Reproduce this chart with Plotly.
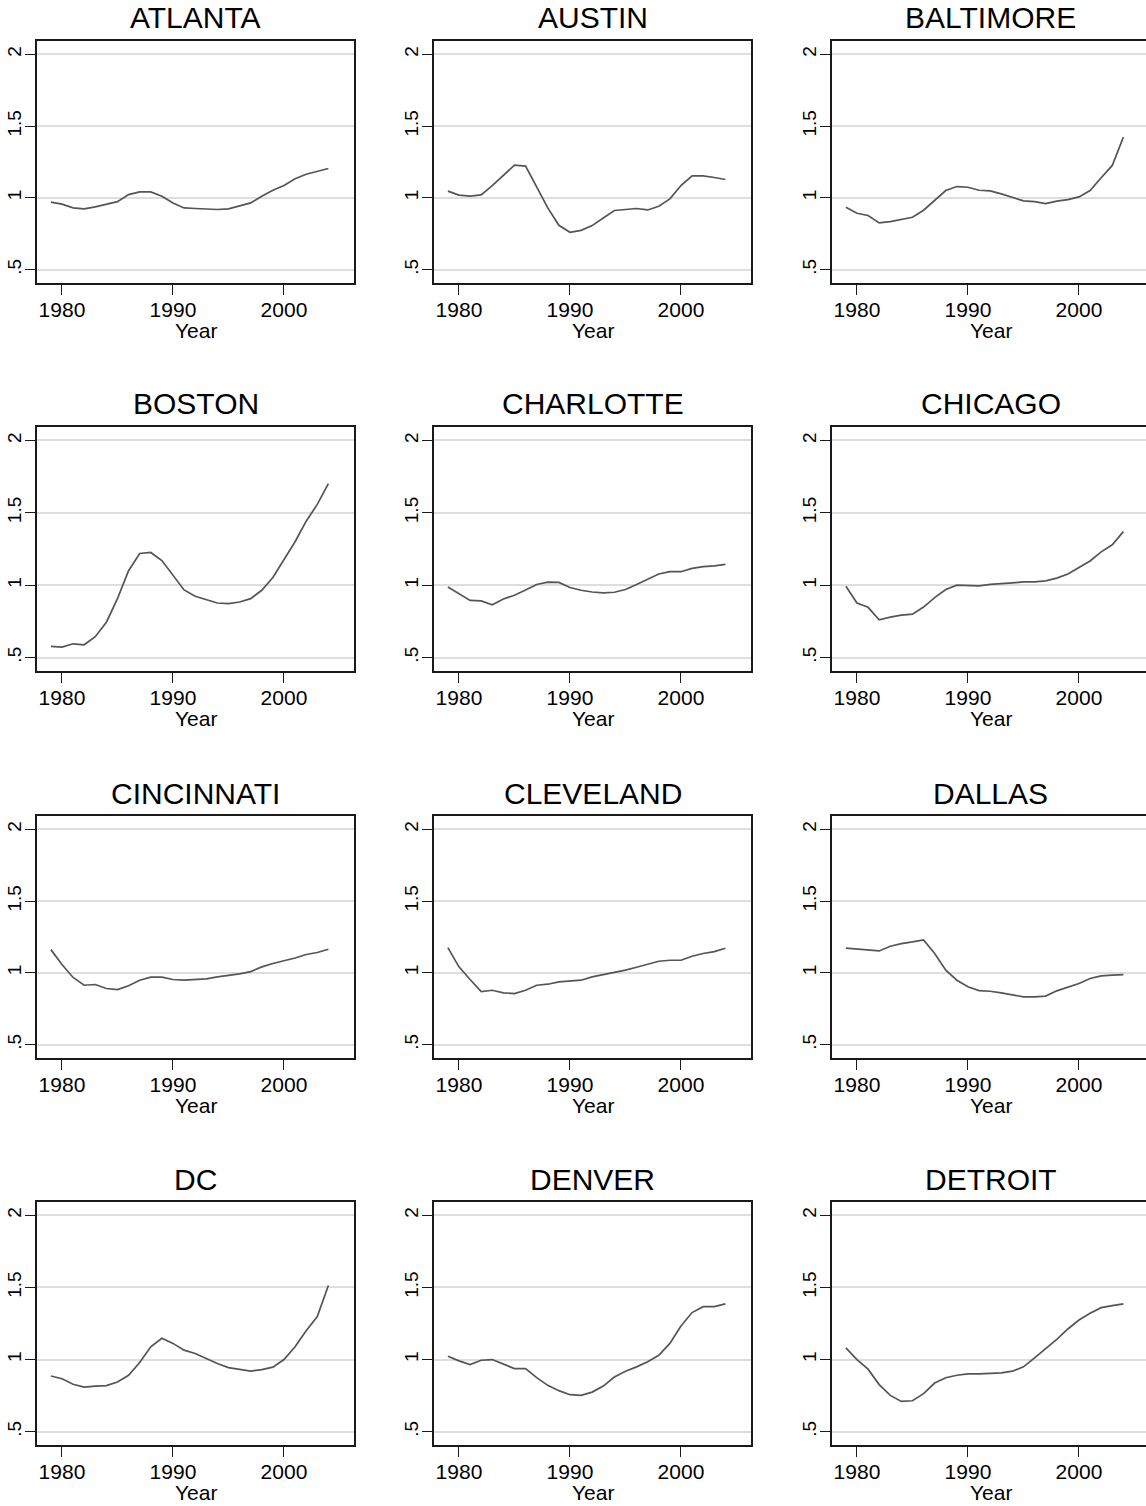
import plotly.graph_objects as go

YEARS = [1979, 1980, 1981, 1982, 1983, 1984, 1985, 1986, 1987, 1988, 1989, 1990, 1991,
         1992, 1993, 1994, 1995, 1996, 1997, 1998, 1999, 2000, 2001, 2002, 2003, 2004]

ATLANTA = [0.97, 0.956, 0.93, 0.923, 0.937, 0.956, 0.974, 1.023, 1.042, 1.042, 1.012, 0.965, 0.93,
           0.926, 0.921, 0.919, 0.923, 0.942, 0.965, 1.012, 1.053, 1.086, 1.133, 1.165, 1.184, 1.205]
AUSTIN = [1.047, 1.019, 1.012, 1.021, 1.086, 1.158, 1.228, 1.221, 1.081, 0.93, 0.809, 0.76, 0.774,
          0.807, 0.86, 0.912, 0.919, 0.926, 0.916, 0.942, 0.993, 1.086, 1.153, 1.153, 1.142, 1.128]
BALTIMORE = [0.935, 0.893, 0.877, 0.826, 0.835, 0.849, 0.865, 0.914, 0.986, 1.051, 1.079, 1.074, 1.053,
             1.049, 1.028, 1.002, 0.979, 0.974, 0.96, 0.977, 0.988, 1.007, 1.051, 1.14, 1.226, 1.423]
BOSTON = [0.577, 0.572, 0.595, 0.588, 0.644, 0.744, 0.907, 1.1, 1.219, 1.226, 1.17, 1.072, 0.967,
          0.923, 0.9, 0.877, 0.872, 0.884, 0.907, 0.965, 1.053, 1.174, 1.3, 1.442, 1.558, 1.702]
CHARLOTTE = [0.988, 0.942, 0.895, 0.891, 0.865, 0.905, 0.93, 0.967, 1.005, 1.021, 1.019, 0.984, 0.965,
             0.953, 0.947, 0.951, 0.97, 1.005, 1.042, 1.077, 1.093, 1.093, 1.116, 1.128, 1.133, 1.144]
CHICAGO = [0.993, 0.877, 0.847, 0.76, 0.779, 0.793, 0.8, 0.849, 0.914, 0.97, 1.0, 1.0, 0.995,
           1.005, 1.009, 1.016, 1.023, 1.023, 1.03, 1.049, 1.077, 1.121, 1.167, 1.23, 1.279, 1.37]
CINCINNATI = [1.162, 1.058, 0.968, 0.914, 0.919, 0.891, 0.884, 0.91, 0.949, 0.97, 0.97, 0.954, 0.949,
              0.954, 0.958, 0.972, 0.981, 0.993, 1.009, 1.042, 1.065, 1.084, 1.104, 1.128, 1.142, 1.165]
CLEVELAND = [1.176, 1.042, 0.954, 0.87, 0.879, 0.861, 0.856, 0.879, 0.914, 0.921, 0.937, 0.944, 0.949,
             0.972, 0.986, 1.0, 1.019, 1.039, 1.058, 1.081, 1.088, 1.088, 1.116, 1.135, 1.148, 1.172]
DALLAS = [1.172, 1.167, 1.158, 1.153, 1.186, 1.204, 1.216, 1.23, 1.135, 1.019, 0.949, 0.903, 0.877,
          0.872, 0.861, 0.845, 0.833, 0.833, 0.838, 0.875, 0.903, 0.926, 0.961, 0.979, 0.984, 0.988]
DC = [0.886, 0.867, 0.828, 0.809, 0.816, 0.819, 0.844, 0.891, 0.979, 1.088, 1.147, 1.112, 1.065,
      1.042, 1.007, 0.972, 0.944, 0.93, 0.919, 0.93, 0.947, 1.0, 1.088, 1.2, 1.298, 1.514]
DENVER = [1.023, 0.991, 0.965, 0.995, 1.0, 0.967, 0.937, 0.937, 0.874, 0.821, 0.784, 0.756, 0.751,
          0.774, 0.816, 0.879, 0.919, 0.949, 0.984, 1.03, 1.112, 1.233, 1.326, 1.367, 1.367, 1.386]
DETROIT = [1.081, 1.0, 0.933, 0.826, 0.751, 0.709, 0.714, 0.763, 0.837, 0.874, 0.891, 0.9, 0.9,
           0.905, 0.907, 0.919, 0.949, 1.012, 1.077, 1.14, 1.212, 1.274, 1.321, 1.36, 1.374, 1.386]

CITIES = ["ATLANTA", "AUSTIN", "BALTIMORE", "BOSTON", "CHARLOTTE", "CHICAGO",
          "CINCINNATI", "CLEVELAND", "DALLAS", "DC", "DENVER", "DETROIT"]
SERIES = [ATLANTA, AUSTIN, BALTIMORE, BOSTON, CHARLOTTE, CHICAGO,
          CINCINNATI, CLEVELAND, DALLAS, DC, DENVER, DETROIT]

Y_TICKS = [0.5, 1, 1.5, 2]
Y_TICK_TEXT = [".5", "1", "1.5", "2"]
X_TICKS = [1980, 1990, 2000]

W, H = 1146, 1506
FONT = "Liberation Sans, Arial, Helvetica, sans-serif"
LINE = "#555555"
FRAME = "#1a1a1a"
GRID = "#dedede"

# panel frames in page pixels (right column runs off the page, like the original)
COL_X = [(37, 354), (434, 751), (832, 1149)]
ROW_Y = [(41, 283), (427, 671), (816, 1058), (1202, 1445)]
X_LEFT = 1977.75
PX_PER_YEAR = 11.1

fig = go.Figure()
annotations = []

for i, (city, vals) in enumerate(zip(CITIES, SERIES)):
    r, c = divmod(i, 3)
    n = "" if i == 0 else str(i + 1)
    x0, x1 = COL_X[c]
    y0, y1 = ROW_Y[r]
    x1c = min(x1, W)

    fig.add_trace(go.Scatter(x=YEARS, y=vals, mode="lines", showlegend=False,
                             line=dict(color=LINE, width=1.7),
                             xaxis="x" + n, yaxis="y" + n))

    fig.update_layout(**{
        "xaxis" + n: dict(
            domain=[x0 / W, x1c / W], anchor="y" + n, automargin=False,
            range=[X_LEFT, X_LEFT + (x1c - x0) / PX_PER_YEAR],
            tickvals=X_TICKS, ticks="outside", ticklen=10, tickwidth=1.3, tickcolor=FRAME,
            tickfont=dict(size=21, color="#000", family=FONT), ticklabelstandoff=-3,
            showline=True, mirror=True, linecolor=FRAME, linewidth=1.6,
            showgrid=False, zeroline=False,
        ),
        "yaxis" + n: dict(
            domain=[1 - y1 / H, 1 - y0 / H], anchor="x" + n, automargin=False,
            range=[0.407, 2.093],
            tickvals=Y_TICKS, ticktext=Y_TICK_TEXT, tickangle=-90,
            ticks="outside", ticklen=10, tickwidth=1.3, tickcolor=FRAME,
            tickfont=dict(size=19, color="#000", family=FONT), ticklabelstandoff=-3,
            showline=True, mirror=(c < 2), linecolor=FRAME, linewidth=1.6,
            showgrid=True, gridcolor=GRID, gridwidth=1.5, zeroline=False,
        ),
    })

    xm = (x0 + x1) / 2 / W
    annotations.append(dict(text=city, x=xm, y=1 - y0 / H, xref="paper", yref="paper",
                            xanchor="center", yanchor="middle", yshift=23, showarrow=False,
                            font=dict(size=30, color="#000", family=FONT)))
    annotations.append(dict(text="Year", x=xm, y=1 - y1 / H, xref="paper", yref="paper",
                            xanchor="center", yanchor="middle", yshift=-47, showarrow=False,
                            font=dict(size=21, color="#000", family=FONT)))

fig.update_layout(width=W, height=H, margin=dict(l=0, r=0, t=0, b=0),
                  paper_bgcolor="white", plot_bgcolor="white",
                  annotations=annotations)

# drop the browser's default body margin so the figure fills the page
fig.write_html("out.html", config={"displayModeBar": False},
               post_script="document.body.style.margin = '0';")
